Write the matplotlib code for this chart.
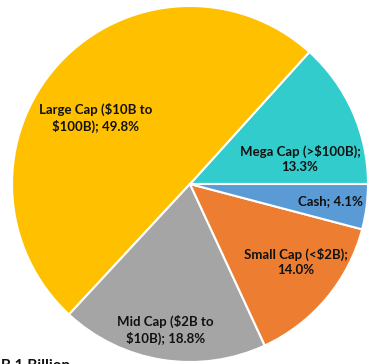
import matplotlib.pyplot as plt

# Portfolio allocation by market cap
categories = ['Mega Cap (>$100B)', 'Large Cap ($10B to\n$100B)', 'Mid Cap ($2B to\n$10B)',
              'Small Cap (<$2B)', 'Cash']
shares = [13.3, 49.8, 18.8, 14.0, 4.1]
colors = ['#33CCCC', '#FFC000', '#A5A5A5', '#ED7D31', '#5B9BD5']

# label anchor points (in pie-radius units), one per slice
label_pos = [(0.618, 0.138), (-0.53, 0.37), (-0.14, -0.82), (0.596, -0.44), (0.79, -0.096)]
label_text = ['Mega Cap (>$100B);\n13.3%', 'Large Cap ($10B to\n$100B); 49.8%',
              'Mid Cap ($2B to\n$10B); 18.8%', 'Small Cap (<$2B);\n14.0%', 'Cash; 4.1%']

W, H = 368, 364
cx, cy, r = 190, 184, 178

fig = plt.figure(figsize=(W / 100, H / 100), dpi=100)
ax = fig.add_axes([0, 0, 1, 1])
ax.pie(shares, colors=colors, startangle=0, counterclock=True, radius=1,
       wedgeprops=dict(edgecolor='white', linewidth=1.5))

for (x, y), t in zip(label_pos, label_text):
    ax.text(x, y, t, ha='center', va='center', fontsize=9.5, fontweight='bold',
            family='Lato', color='#111111', linespacing=1.3)

ax.set_aspect('auto')
ax.set_xlim(-cx / r, (W - cx) / r)
ax.set_ylim(-(H - cy) / r, cy / r)
ax.axis('off')

# caption along the bottom edge, mostly below the frame
fig.text(-8 / W, 1 - 358 / H, '$B 1 Billion', ha='left', va='top',
         fontsize=11, fontweight='bold', family='Lato', color='#111111')

fig.savefig('out.png', dpi=100)
